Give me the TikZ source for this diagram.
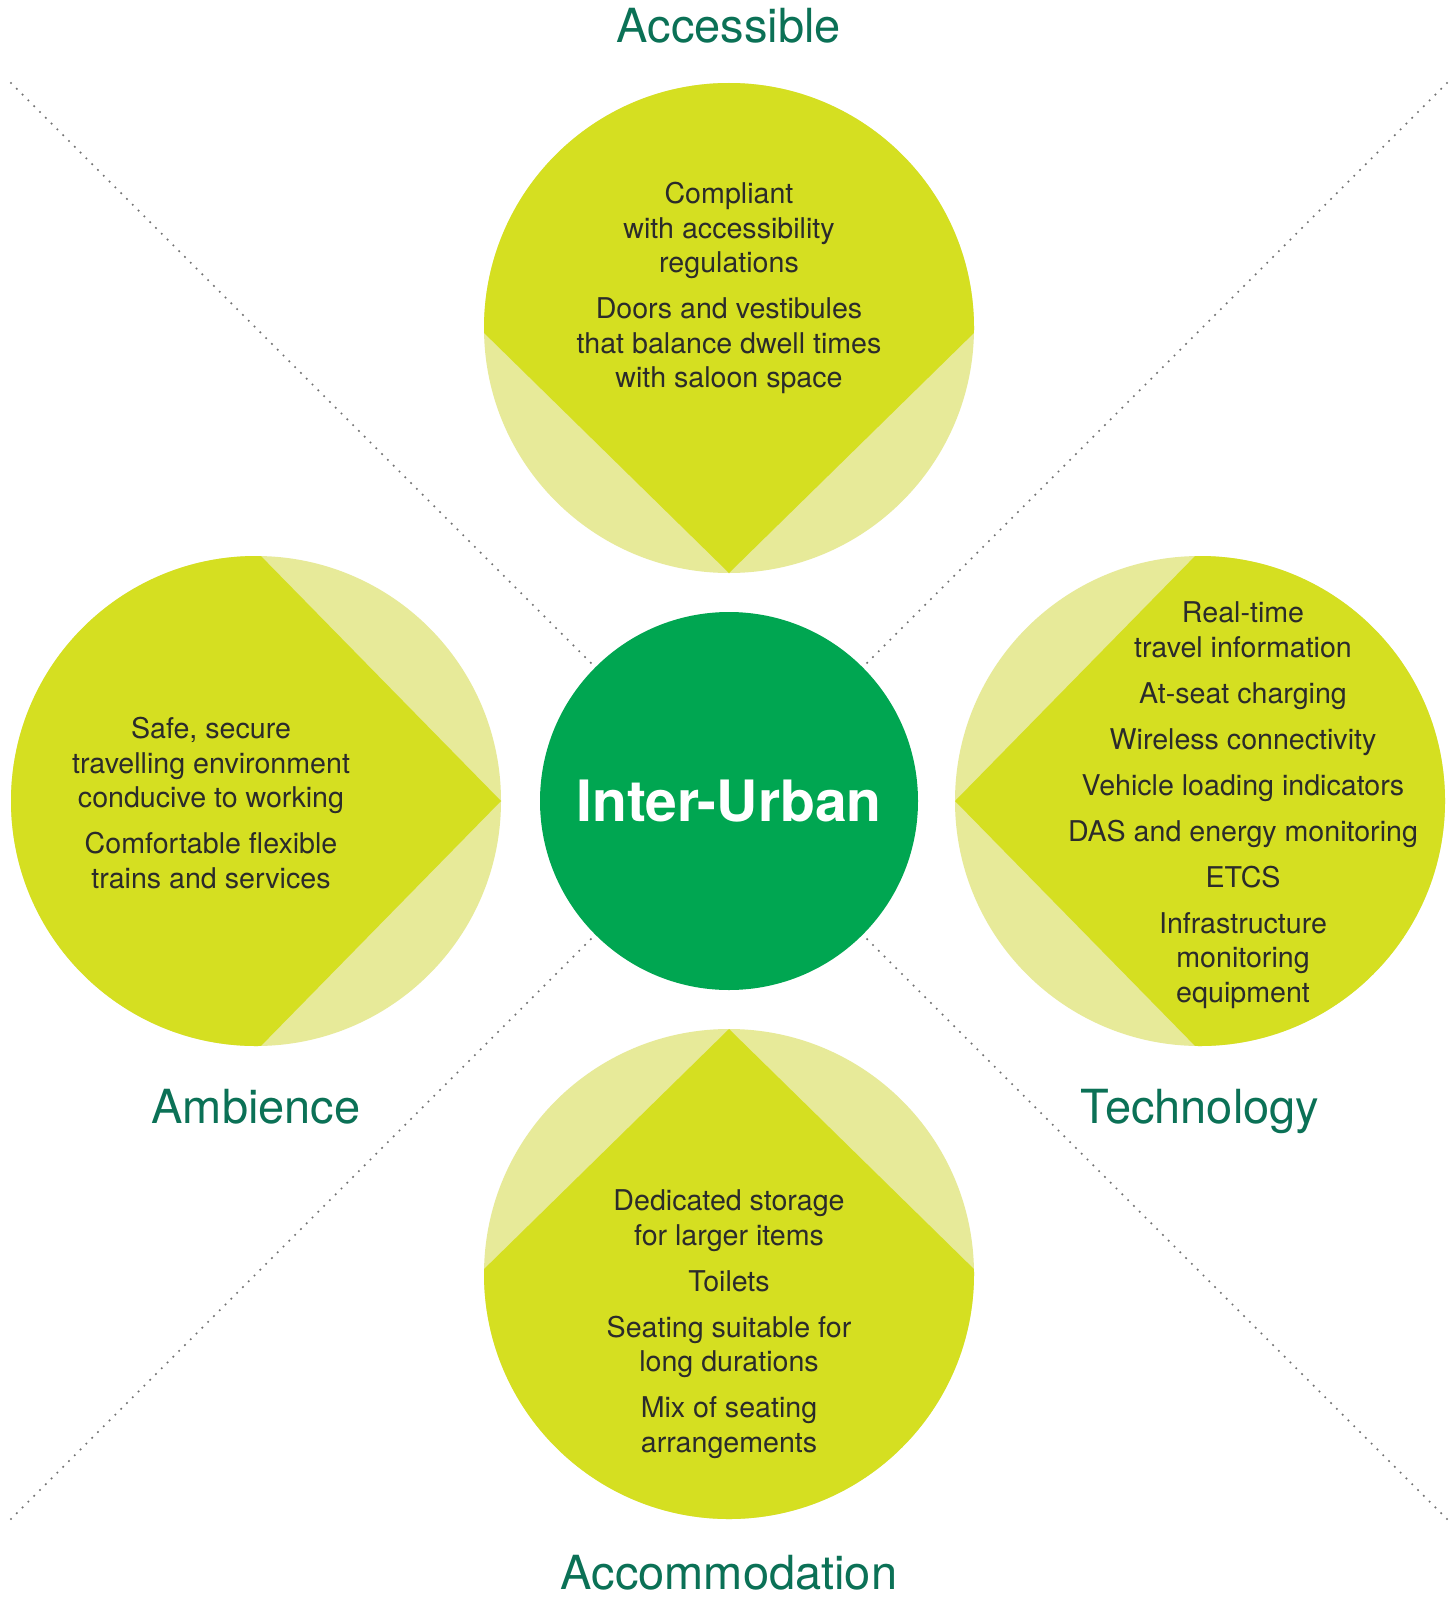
\documentclass[tikz,border=0pt]{standalone}
\usepackage{fontspec}
\setmainfont{TeX Gyre Heros}
\definecolor{leafdark}{HTML}{D5DF21}
\definecolor{leaflight}{HTML}{E7EA99}
\definecolor{hubgreen}{HTML}{00A651}
\definecolor{labelgreen}{HTML}{0B7156}
\definecolor{bodytext}{HTML}{2B2B2B}
\begin{document}
\begin{tikzpicture}
[x=0.5pt, y=-0.5pt,
  hubdecorate/.style={shape=circle,fill=hubgreen,minimum size=189pt,inner sep=0pt,
    text=white,font=\fontsize{28.5}{32}\selectfont\bfseries},
  textdecorate/.style={align=center,text=bodytext,inner sep=0pt,
    font=\fontsize{14.3}{17.25}\selectfont},
  labeldecorate/.style={anchor=base,text=labelgreen,inner sep=0pt,
    font=\fontsize{23.5}{28}\selectfont},
  linedecorate/.style={-,draw=black!55,line width=1.2pt,line cap=round,
    dash pattern=on 0pt off 4.1pt}]
%% page
\fill[white] (0,0) rectangle (1454,1600);
\useasboundingbox (0,0) rectangle (1454,1600);
%% petals
\foreach \nodename/\x/\y/\angle in {acc/729/328/270, amb/256/801/0,
  tech/1200/801/180, accom/729/1274/90}
{
  \coordinate (\nodename) at (\x,\y);
  \begin{scope}[shift={(\nodename)}, rotate=\angle]
    \fill[leaflight] (0,0) circle[radius=122.5pt];
    \clip (0,0) circle[radius=122.5pt];
    \fill[leafdark] (0,-250) -- (-250,-250) -- (-250,250) -- (0,250)
      -- (245,0) -- cycle;
  \end{scope}
}
%% hub
\node (hub) at (729,801) [hubdecorate] {Inter-Urban};
%% texts
\node (acctext) at (729,288) [textdecorate] {Compliant\\with accessibility\\
  regulations\\[5.75pt]Doors and vestibules\\that balance dwell times\\
  with saloon space};
\node (ambtext) at (211,803) [textdecorate] {Safe, secure\\travelling environment\\
  conducive to working\\[5.75pt]Comfortable flexible\\trains and services};
\node (techtext) at (1243,805) [textdecorate] {Real-time\\travel information\\[5.75pt]
  At-seat charging\\[5.75pt]Wireless connectivity\\[5.75pt]
  Vehicle loading indicators\\[5.75pt]DAS and energy monitoring\\[5.75pt]
  ETCS\\[5.75pt]Infrastructure\\monitoring\\equipment};
\node (accomtext) at (729,1324) [textdecorate] {Dedicated storage\\for larger items\\[5.75pt]
  Toilets\\[5.75pt]Seating suitable for\\long durations\\[5.75pt]
  Mix of seating\\arrangements};
%% labels
\foreach \nodename/\x/\y/\labeltext in {acclabel/729/43/Accessible,
  amblabel/256/1123/Ambience, techlabel/1200/1123/Technology,
  accomlabel/729/1589/Accommodation}
{
  \node (\nodename) at (\x,\y) [labeldecorate] {\labeltext};
}
%% dotted diagonals
\foreach \nodename/\x/\y in {nw/11/83, ne/1447/83, sw/11/1519, se/1447/1519}
{
  \coordinate (\nodename) at (\x,\y);
}
\path
\foreach \startnode in {nw, ne, sw, se}
{
  (\startnode) edge[linedecorate] (hub)
};
\end{tikzpicture}
\end{document}
